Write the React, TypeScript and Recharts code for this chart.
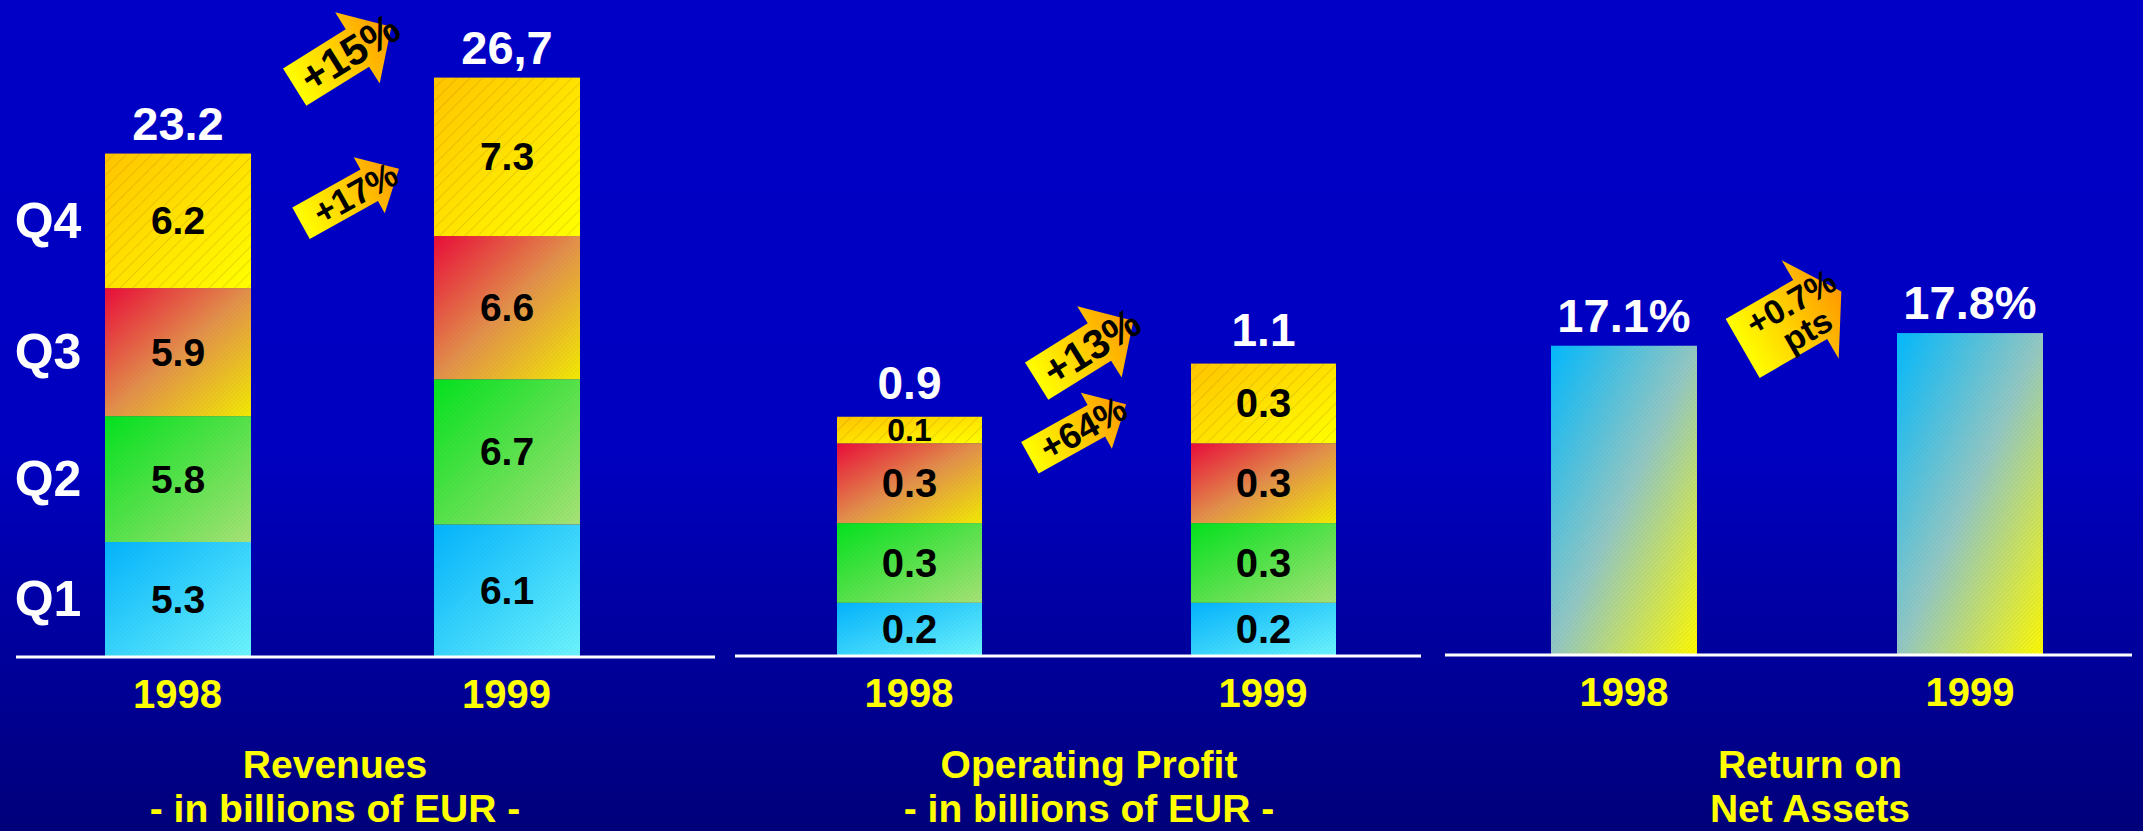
import React from "react";
import { BarChart, Bar, XAxis, YAxis, LabelList } from "recharts";

const years = ["1998", "1999"];
const quarters = ["Q1", "Q2", "Q3", "Q4"];

// Revenues - in billions of EUR
const revQ1 = [5.3, 6.1];
const revQ2 = [5.8, 6.7];
const revQ3 = [5.9, 6.6];
const revQ4 = [6.2, 7.3];
const revTotals = ["23.2", "26,7"];

// Operating profit - in billions of EUR
const opQ1 = [0.2, 0.2];
const opQ2 = [0.3, 0.3];
const opQ3 = [0.3, 0.3];
const opQ4 = [0.1, 0.3];
const opTotals = ["0.9", "1.1"];

// Return on net assets, %
const rona = [17.1, 17.8];
const ronaLabels = ["17.1%", "17.8%"];

const FONT = '"Liberation Sans", Arial, sans-serif';

const revData = years.map((year, i) => ({
  year,
  Q1: revQ1[i],
  Q2: revQ2[i],
  Q3: revQ3[i],
  Q4: revQ4[i],
}));
const opData = years.map((year, i) => ({
  year,
  Q1: opQ1[i],
  Q2: opQ2[i],
  Q3: opQ3[i],
  Q4: opQ4[i],
}));
const ronaData = years.map((year, i) => ({ year, value: rona[i] }));

const quarterFill: Record<string, string> = {
  Q1: "gQ1",
  Q2: "gQ2",
  Q3: "gQ3",
  Q4: "gQ4",
};

function Defs() {
  return (
    <svg width={0} height={0} style={{ position: "absolute" }}>
      <defs>
        <linearGradient id="gQ1" x1="0" y1="0" x2="1" y2="1">
          <stop offset="0%" stopColor="#00B4FF" />
          <stop offset="100%" stopColor="#6CF6FF" />
        </linearGradient>
        <linearGradient id="gQ2" x1="0" y1="0" x2="1" y2="1">
          <stop offset="0%" stopColor="#00E41C" />
          <stop offset="100%" stopColor="#A8E476" />
        </linearGradient>
        <linearGradient id="gQ3" x1="0" y1="0" x2="1" y2="1">
          <stop offset="0%" stopColor="#EC0A38" />
          <stop offset="50%" stopColor="#E4904A" />
          <stop offset="100%" stopColor="#F4EC00" />
        </linearGradient>
        <linearGradient id="gQ4" x1="0" y1="0" x2="1" y2="1">
          <stop offset="0%" stopColor="#FFC400" />
          <stop offset="100%" stopColor="#FFFF00" />
        </linearGradient>
        <linearGradient id="gRona" x1="0" y1="0" x2="1" y2="1">
          <stop offset="0%" stopColor="#00BAFF" />
          <stop offset="50%" stopColor="#92C8C4" />
          <stop offset="100%" stopColor="#FFFA00" />
        </linearGradient>
        <linearGradient id="gArrow" x1="0" y1="0" x2="1" y2="0">
          <stop offset="0%" stopColor="#FFFF00" />
          <stop offset="100%" stopColor="#FF9900" />
        </linearGradient>
        <pattern id="hatchWide" width="9" height="9" patternUnits="userSpaceOnUse" patternTransform="rotate(45)">
          <line x1="0" y1="0" x2="0" y2="9" stroke="#A07800" strokeWidth="1" strokeOpacity="0.45" />
        </pattern>
        <pattern id="hatchFine" width="3" height="3" patternUnits="userSpaceOnUse" patternTransform="rotate(45)">
          <line x1="0" y1="0" x2="0" y2="3" stroke="#606060" strokeWidth="1" strokeOpacity="0.18" />
        </pattern>
      </defs>
    </svg>
  );
}

const makeShape = (grad: string, hatch: string) => (props: any) => {
  const { x, y, width, height } = props;
  if (!height) return <g />;
  return (
    <g>
      <rect x={x} y={y} width={width} height={height} fill={`url(#${grad})`} />
      <rect x={x} y={y} width={width} height={height} fill={`url(#${hatch})`} />
    </g>
  );
};

const yearTick = (props: any) => (
  <text
    x={props.x}
    y={props.y + 49}
    textAnchor="middle"
    fill="#FFFF00"
    fontWeight="bold"
    fontSize={40}
    fontFamily={FONT}
  >
    {props.payload.value}
  </text>
);

const segLabel = (size: number) => (props: any) => {
  const { x, y, width, height, value } = props;
  // small segments get a smaller font so the text stays inside
  const fs = Math.min(size, Math.max(24, height * 1.2));
  return (
    <text
      x={x + width / 2}
      y={y + height / 2}
      textAnchor="middle"
      dominantBaseline="central"
      fill="#000"
      fontWeight="bold"
      fontSize={fs}
      fontFamily={FONT}
    >
      {value}
    </text>
  );
};

const topLabel = (labels: string[], size: number, gap: number) => (props: any) => {
  const { x, y, width, index } = props;
  return (
    <text
      x={x + width / 2}
      y={y - gap}
      textAnchor="middle"
      fill="#FFFFFF"
      fontWeight="bold"
      fontSize={size}
      fontFamily={FONT}
    >
      {labels[index]}
    </text>
  );
};

const quarterLabel = (name: string) => (props: any) => {
  const { x, y, height, index } = props;
  if (index !== 0) return null;
  return (
    <text
      x={x - 57}
      y={y + height / 2}
      textAnchor="middle"
      dominantBaseline="central"
      fill="#FFFFFF"
      fontWeight="bold"
      fontSize={50}
      fontFamily={FONT}
    >
      {name}
    </text>
  );
};

type StackProps = {
  data: any[];
  left: number;
  width: number;
  margin: { top: number; right: number; bottom: number; left: number };
  domain: [number, number];
  padding: { left: number; right: number };
  barSize: number;
  totals: string[];
  segSize: number;
  totalSize: number;
  totalGap: number;
  showQuarters?: boolean;
};

function StackedPanel(p: StackProps) {
  return (
    <div style={{ position: "absolute", left: p.left, top: 0 }}>
      <BarChart width={p.width} height={831} data={p.data} margin={p.margin}>
        <XAxis
          dataKey="year"
          padding={p.padding}
          axisLine={{ stroke: "#FFFFFF", strokeWidth: 3 }}
          tickLine={false}
          tickSize={0}
          height={30}
          tick={yearTick}
          interval={0}
        />
        <YAxis hide domain={p.domain} />
        {quarters.map((q) => (
          <Bar
            key={q}
            dataKey={q}
            stackId="s"
            barSize={p.barSize}
            isAnimationActive={false}
            shape={makeShape(quarterFill[q], q === "Q4" ? "hatchWide" : "hatchFine")}
          >
            <LabelList dataKey={q} content={segLabel(p.segSize)} />
            {p.showQuarters && <LabelList dataKey={q} content={quarterLabel(q)} />}
            {q === "Q4" && (
              <LabelList
                dataKey={q}
                content={topLabel(p.totals, p.totalSize, p.totalGap)}
              />
            )}
          </Bar>
        ))}
      </BarChart>
    </div>
  );
}

function RonaPanel() {
  return (
    <div style={{ position: "absolute", left: 1440, top: 0 }}>
      <BarChart
        width={703}
        height={831}
        data={ronaData}
        margin={{ top: 22, right: 11, bottom: 146, left: 5 }}
      >
        <XAxis
          dataKey="year"
          padding={{ left: 6, right: -11 }}
          axisLine={{ stroke: "#FFFFFF", strokeWidth: 3 }}
          tickLine={false}
          tickSize={0}
          height={30}
          tick={yearTick}
          interval={0}
        />
        <YAxis hide domain={[0, 35]} />
        <Bar
          dataKey="value"
          barSize={146}
          isAnimationActive={false}
          shape={makeShape("gRona", "hatchFine")}
        >
          <LabelList dataKey="value" content={topLabel(ronaLabels, 47, 14)} />
        </Bar>
      </BarChart>
    </div>
  );
}

type ArrowProps = {
  cx: number;
  cy: number;
  len: number;
  thick: number;
  headW: number;
  headLen: number;
  angle: number;
  lines: string[];
  fontSize: number;
  textDx?: number;
};

function Arrow(a: ArrowProps) {
  const x0 = -a.len / 2;
  const xh = a.len / 2 - a.headLen;
  const x1 = a.len / 2;
  const pts = [
    [x0, -a.thick / 2],
    [xh, -a.thick / 2],
    [xh, -a.headW / 2],
    [x1, 0],
    [xh, a.headW / 2],
    [xh, a.thick / 2],
    [x0, a.thick / 2],
  ]
    .map((pt) => pt.join(","))
    .join(" ");
  const lh = a.fontSize * 0.95;
  const startY = -((a.lines.length - 1) * lh) / 2;
  return (
    <g transform={`translate(${a.cx},${a.cy}) rotate(${a.angle})`}>
      <polygon points={pts} fill="url(#gArrow)" />
      {a.lines.map((t, i) => (
        <text
          key={t}
          x={a.textDx ?? 0}
          y={startY + i * lh}
          textAnchor="middle"
          dominantBaseline="central"
          fill="#000"
          fontWeight="bold"
          fontSize={a.fontSize}
          fontFamily={FONT}
        >
          {t}
        </text>
      ))}
    </g>
  );
}

function Overlay() {
  const title = (x: number, lines: string[]) =>
    lines.map((t, i) => (
      <text
        key={t}
        x={x}
        y={778 + i * 44}
        textAnchor="middle"
        fill="#FFFF00"
        fontWeight="bold"
        fontSize={39}
        fontFamily={FONT}
      >
        {t}
      </text>
    ));
  return (
    <svg
      width={2143}
      height={831}
      style={{ position: "absolute", left: 0, top: 0, pointerEvents: "none" }}
    >
      {title(335, ["Revenues", "- in billions of EUR -"])}
      {title(1089, ["Operating Profit", "- in billions of EUR -"])}
      {title(1810, ["Return on", "Net Assets"])}
      <Arrow cx={343} cy={57} len={114} thick={44} headW={84} headLen={40} angle={-32} lines={["+15%"]} fontSize={42} textDx={8} />
      <Arrow cx={350} cy={196} len={112} thick={36} headW={64} headLen={34} angle={-29} lines={["+17%"]} fontSize={35} textDx={6} />
      <Arrow cx={1085} cy={351} len={114} thick={44} headW={84} headLen={40} angle={-32} lines={["+13%"]} fontSize={41} textDx={8} />
      <Arrow cx={1078} cy={431} len={110} thick={36} headW={64} headLen={34} angle={-29} lines={["+64%"]} fontSize={36} textDx={6} />
      <Arrow cx={1792} cy={320} len={114} thick={68} headW={114} headLen={36} angle={-30} lines={["+0.7%", "pts"]} fontSize={34} textDx={8} />
    </svg>
  );
}

export default function App() {
  return (
    <div
      style={{
        position: "absolute",
        left: 0,
        top: 0,
        width: 2143,
        height: 831,
        overflow: "hidden",
        background: "linear-gradient(180deg, #0000C6 0%, #0000C0 55%, #00007A 100%)",
      }}
    >
      <Defs />
      <StackedPanel
        data={revData}
        left={0}
        width={720}
        margin={{ top: 6, right: 5, bottom: 144, left: 16 }}
        domain={[0, 30]}
        padding={{ left: -3, right: 44 }}
        barSize={146}
        totals={revTotals}
        segSize={39}
        totalSize={47}
        totalGap={14}
        showQuarters
      />
      <StackedPanel
        data={opData}
        left={720}
        width={720}
        margin={{ top: 18, right: 19, bottom: 145, left: 15 }}
        domain={[0, 2.4]}
        padding={{ left: -3, right: -19 }}
        barSize={145}
        totals={opTotals}
        segSize={40}
        totalSize={46}
        totalGap={18}
      />
      <RonaPanel />
      <Overlay />
    </div>
  );
}
